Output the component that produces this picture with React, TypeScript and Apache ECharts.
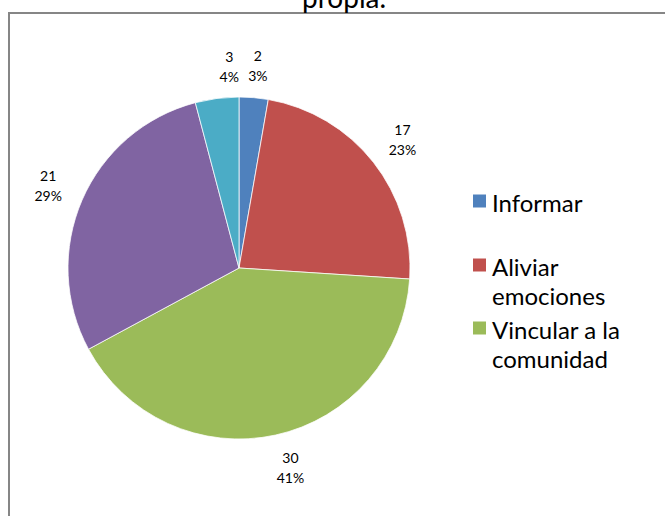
import React, { useEffect, useRef } from "react";
import * as echarts from "echarts";

const categories = [
  "Informar",
  "Aliviar emociones",
  "Vincular a la comunidad",
  "Otra categoría 4",
  "Otra categoría 5",
];
const values = [2, 17, 30, 21, 3];
const colors = ["#4F81BD", "#C0504D", "#9BBB59", "#8064A2", "#4BACC6"];
const legendLines = [["Informar"], ["Aliviar", "emociones"], ["Vincular a la", "comunidad"]];
const titleText = "propia.";

const FONT = "Lato, 'DejaVu Sans', sans-serif";

export default function App() {
  const ref = useRef<HTMLDivElement>(null);

  useEffect(() => {
    if (!ref.current) return;
    const chart = echarts.init(ref.current, undefined, { renderer: "svg" });

    const legendTops = [202, 266, 329];
    const legendGraphics: any[] = [];
    legendLines.forEach((lines, i) => {
      const mid = legendTops[i];
      legendGraphics.push({
        type: "rect",
        shape: { x: 473, y: mid - 7.5, width: 13, height: 13 },
        style: { fill: colors[i] },
        silent: true,
      });
      legendGraphics.push({
        type: "text",
        x: 492,
        y: mid - 14.5,
        style: {
          text: lines.join("\n"),
          fontSize: 24,
          fontFamily: FONT,
          lineHeight: 29,
          fill: "#000",
          verticalAlign: "top",
          align: "left",
        },
        silent: true,
      });
    });

    const pieData = categories.map((name, i) => ({
      name,
      value: values[i],
      itemStyle: { color: colors[i] },
    }));

    const labelOffsets: Record<number, number[]> = { 0: [1, 5], 2: [7, -4], 4: [17, 5] };
    const labelData = categories.map((name, i) => ({
      name,
      value: values[i],
      label: labelOffsets[i] ? { offset: labelOffsets[i] } : {},
    }));

    chart.setOption({
      animation: false,
      backgroundColor: "#fff",
      graphic: [
        {
          type: "rect",
          shape: { x: 9, y: 13, width: 700, height: 600 },
          style: { fill: "none", stroke: "#868686", lineWidth: 2 },
          silent: true,
          z: -1,
        },
        {
          type: "text",
          x: 302,
          y: -3,
          style: {
            text: titleText,
            fontSize: 28,
            fontFamily: FONT,
            fill: "#000",
            verticalAlign: "middle",
            align: "left",
          },
          silent: true,
        },
        ...legendGraphics,
      ],
      series: [
        {
          type: "pie",
          center: [239, 268],
          radius: 171,
          startAngle: 90,
          clockwise: true,
          label: { show: false },
          labelLine: { show: false },
          emphasis: { disabled: true },
          itemStyle: { borderColor: "#fff", borderWidth: 0.75 },
          data: pieData,
        },
        {
          type: "pie",
          center: [239, 268],
          radius: [192, 218],
          startAngle: 90,
          clockwise: true,
          silent: true,
          emphasis: { disabled: true },
          itemStyle: { color: "rgba(0,0,0,0)" },
          label: {
            show: true,
            position: "inside",
            rotate: 0,
            fontSize: 14,
            lineHeight: 20,
            fontFamily: FONT,
            color: "#000",
            formatter: (p: any) => `${p.value}\n${Math.round(p.percent)}%`,
          },
          labelLine: { show: false },
          data: labelData,
        },
      ],
    });

    return () => chart.dispose();
  }, []);

  return (
    <div
      ref={ref}
      style={{ position: "fixed", left: 0, top: 0, width: 665, height: 516, background: "#fff" }}
    />
  );
}
